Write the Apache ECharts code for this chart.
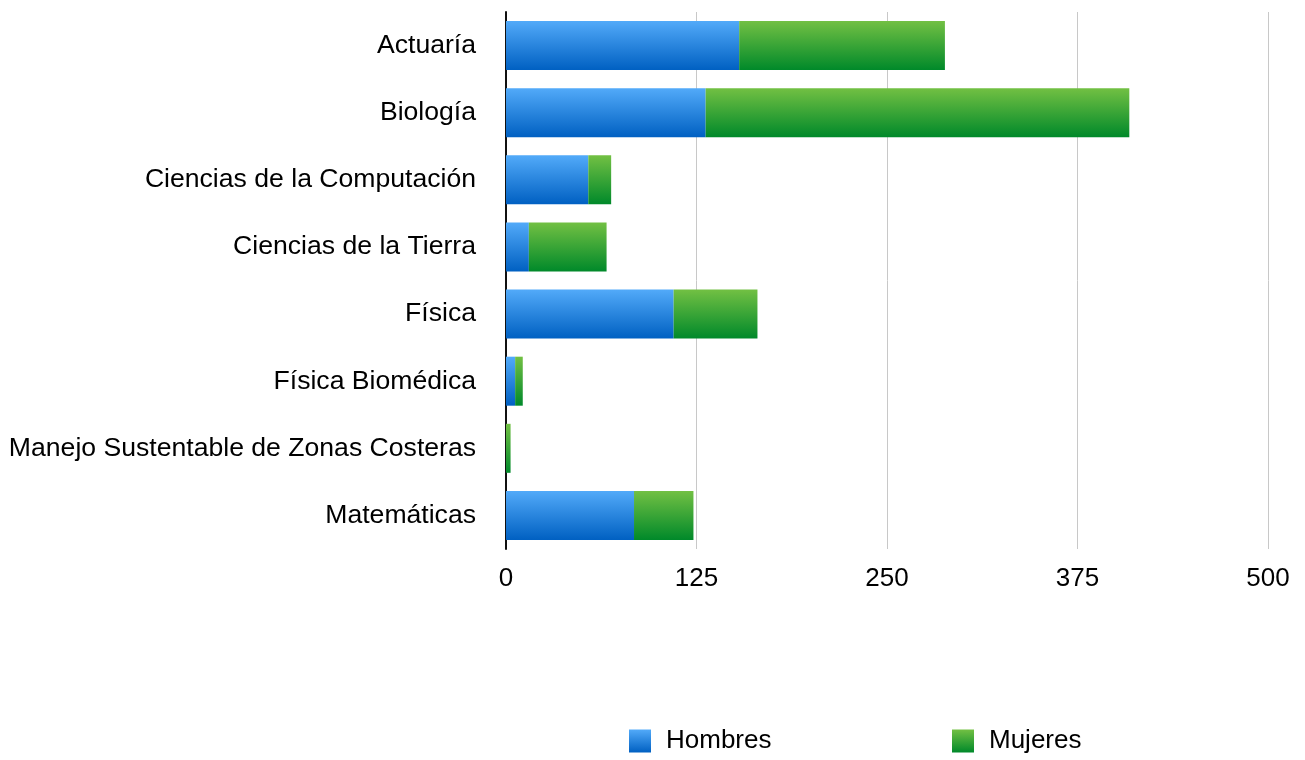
<!DOCTYPE html>
<html>
<head>
  <meta charset="utf-8" />
  <title>Hombres y Mujeres por carrera</title>
  <script src="https://cdn.jsdelivr.net/npm/echarts@6/dist/echarts.min.js"></script>
</head>
<body style="margin:0;background:#fff;">
<div id="main" style="width:1305px;height:760px;"></div>
<script type="text/javascript">
  // datos
  var carreras = ['Actuaría', 'Biología', 'Ciencias de la Computación', 'Ciencias de la Tierra',
    'Física', 'Física Biomédica', 'Manejo Sustentable de Zonas Costeras', 'Matemáticas'];
  var hombres = [153, 131, 54, 15, 110, 6, 0, 84];
  var mujeres = [135, 278, 15, 51, 55, 5, 3, 39];
  var ticks = [0, 125, 250, 375, 500];

  var fuente = 'Liberation Sans, Arial, Helvetica, sans-serif';

  function degradado(arriba, abajo) {
    return new echarts.graphic.LinearGradient(0, 0, 0, 1, [
      { offset: 0, color: arriba },
      { offset: 1, color: abajo }
    ]);
  }
  var azul = degradado('#52aaf9', '#0060c2');
  var verde = degradado('#72c043', '#00892a');

  var leyendaTexto = { fontSize: 26, color: '#000', fontFamily: fuente, padding: [2, 0, 0, 10] };

  var myChart = echarts.init(document.getElementById('main'));
  var option = {
    animation: false,
    textStyle: { fontFamily: fuente },
    grid: { left: 506, right: 37, top: 12, bottom: 211 },
    legend: [
      {
        data: [{ name: 'Hombres', itemStyle: { color: azul } }],
        left: 624, top: 723, icon: 'rect', itemWidth: 22, itemHeight: 23,
        textStyle: leyendaTexto
      },
      {
        data: [{ name: 'Mujeres', itemStyle: { color: verde } }],
        left: 947, top: 723, icon: 'rect', itemWidth: 22, itemHeight: 23,
        textStyle: leyendaTexto
      }
    ],
    xAxis: {
      type: 'value',
      min: ticks[0], max: ticks[ticks.length - 1], interval: 125,
      axisLine: { show: false },
      axisTick: { show: false },
      splitLine: { lineStyle: { color: '#c8c8c8', width: 1 } },
      axisLabel: { fontSize: 26, color: '#000', margin: 17, fontFamily: fuente }
    },
    yAxis: {
      type: 'category',
      data: carreras,
      inverse: true,
      axisLine: { show: true, lineStyle: { color: '#111', width: 2 } },
      axisTick: { show: false },
      axisLabel: { fontSize: 26.6, color: '#000', margin: 30, fontFamily: fuente }
    },
    series: [
      {
        name: 'Hombres', type: 'bar', stack: 'total', data: hombres,
        barCategoryGap: '27%', itemStyle: { color: azul }
      },
      {
        name: 'Mujeres', type: 'bar', stack: 'total', data: mujeres,
        barCategoryGap: '27%', itemStyle: { color: verde }
      }
    ]
  };
  myChart.setOption(option);
</script>
</body>
</html>
